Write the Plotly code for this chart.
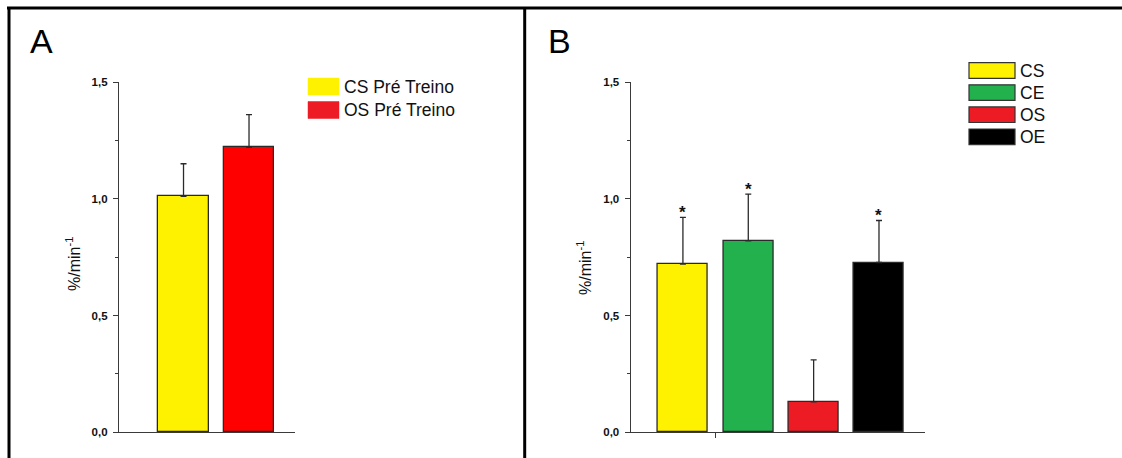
import plotly.graph_objects as go

# ---------------- data ----------------
cat_a = ["CS Pré Treino", "OS Pré Treino"]
mean_a = [1.01, 1.22]
err_a = [0.14, 0.14]
bar_col_a = ["#FFF200", "#FF0000"]
leg_col_a = ["#FFF200", "#ED1C24"]

cat_b = ["CS", "CE", "OS", "OE"]
mean_b = [0.72, 0.82, 0.13, 0.727]
err_b = [0.20, 0.20, 0.18, 0.18]
sig_b = ["*", "*", "", "*"]
col_b = ["#FFF200", "#22B14C", "#ED1C24", "#000000"]

y_tickvals = [0.0, 0.5, 1.0, 1.5]
y_label = "%/min<sup>-1</sup>"
panel_labels = ["A", "B"]

# ---------------- geometry helpers ----------------
W, H = 1122, 458
def px(x):
    return x / W
def py(y):
    return 1 - y / H

FONT = "Arial, 'Liberation Sans', sans-serif"
AX = "#3a3a3a"

fig = go.Figure()

# Panel A bars
fig.add_trace(go.Bar(
    x=list(range(len(cat_a))), y=mean_a, width=0.77,
    marker=dict(color=bar_col_a, line=dict(color="#2a2a2a", width=1.3)),
    error_y=dict(type="data", symmetric=False, array=err_a,
                 arrayminus=[0] * len(err_a), color="#2a2a2a",
                 thickness=1.3, width=3),
    xaxis="x", yaxis="y", showlegend=False, hoverinfo="skip"))

# Panel B bars
fig.add_trace(go.Bar(
    x=list(range(len(cat_b))), y=mean_b, width=0.765,
    marker=dict(color=col_b, line=dict(color="#2a2a2a", width=1.3)),
    error_y=dict(type="data", symmetric=False, array=err_b,
                 arrayminus=[0] * len(err_b), color="#2a2a2a",
                 thickness=1.3, width=3),
    xaxis="x2", yaxis="y2", showlegend=False, hoverinfo="skip"))

ydom = [py(432.3), py(82)]
yax = dict(range=[0, 1.5], domain=ydom, showline=True, linecolor=AX,
           linewidth=1.3, ticks="outside", ticklen=5, tickwidth=1,
           tickcolor=AX, tickvals=y_tickvals, tickformat=".1f",
           tickfont=dict(family=FONT, size=11.5, color="#111", weight="bold"),
           ticklabelstandoff=3, automargin=False,
           minor=dict(ticks="outside", ticklen=3, tickwidth=1,
                      tickcolor=AX, dtick=0.25),
           showgrid=False, zeroline=False, fixedrange=True)

fig.update_layout(
    template=None,
    width=W, height=H, margin=dict(l=0, r=0, t=0, b=0, pad=0, autoexpand=False),
    paper_bgcolor="white", plot_bgcolor="rgba(0,0,0,0)",
    separators=",.", bargap=0,
    xaxis=dict(domain=[px(119), px(295)], range=[-0.985, 1.702],
               anchor="y", showline=True, linecolor=AX, linewidth=1.3,
               showticklabels=False, ticks="", showgrid=False,
               zeroline=False, fixedrange=True, automargin=False),
    yaxis=dict(anchor="x", **yax),
    xaxis2=dict(domain=[px(630.7), px(925)], range=[-0.799, 3.704],
                anchor="y2", showline=True, linecolor=AX, linewidth=1.3,
                tickvals=[0.5], ticks="outside", ticklen=5, tickwidth=1,
                tickcolor=AX, showticklabels=False, showgrid=False,
                zeroline=False, fixedrange=True, automargin=False),
    yaxis2=dict(anchor="x2", **yax),
)

shapes = []
annotations = []

# significance stars above error bars (data coordinates)
for i, s in enumerate(sig_b):
    if s:
        annotations.append(dict(text=s, xref="x2", yref="y2", x=i,
                                y=mean_b[i] + err_b[i], yanchor="middle",
                                yshift=5, showarrow=False,
                                font=dict(family=FONT, size=17, color="#111",
                                          weight="bold")))

# outer frame
shapes.append(dict(type="line", xref="paper", yref="paper",
                   x0=px(7), x1=1, y0=py(8), y1=py(8),
                   line=dict(color="black", width=3)))
shapes.append(dict(type="line", xref="paper", yref="paper",
                   x0=px(9), x1=px(9), y0=py(7), y1=0,
                   line=dict(color="black", width=3)))
shapes.append(dict(type="line", xref="paper", yref="paper",
                   x0=px(524.7), x1=px(524.7), y0=py(7), y1=0,
                   line=dict(color="black", width=3)))

# panel labels
for lbl, xl in zip(panel_labels, [28, 546]):
    annotations.append(dict(text=lbl, xref="paper", yref="paper",
                            x=px(xl), y=py(41), xanchor="left",
                            yanchor="middle", showarrow=False,
                            font=dict(family=FONT, size=34, color="black")))

# y-axis titles
for xc, yc in [(73, 264), (584, 268)]:
    annotations.append(dict(text=y_label, xref="paper", yref="paper",
                            x=px(xc), y=py(yc), textangle=-90,
                            xanchor="center", yanchor="middle",
                            showarrow=False,
                            font=dict(family=FONT, size=16, color="#111")))

# legend A
for i, (name, c) in enumerate(zip(cat_a, leg_col_a)):
    y0 = 78 + i * 23.5
    shapes.append(dict(type="rect", xref="paper", yref="paper",
                       x0=px(308), x1=px(339), y0=py(y0), y1=py(y0 + 17),
                       fillcolor=c, line=dict(color=c, width=0.5)))
    annotations.append(dict(text=name, xref="paper", yref="paper",
                            x=px(342), y=py(y0 + 9), xanchor="left",
                            yanchor="middle", showarrow=False,
                            font=dict(family=FONT, size=17.5, color="#111")))

# legend B
for i, (name, c) in enumerate(zip(cat_b, col_b)):
    y0 = 62.7 + i * 22.1
    shapes.append(dict(type="rect", xref="paper", yref="paper",
                       x0=px(969), x1=px(1015), y0=py(y0), y1=py(y0 + 15.6),
                       fillcolor=c, line=dict(color="#333", width=1.2)))
    annotations.append(dict(text=name, xref="paper", yref="paper",
                            x=px(1018), y=py(y0 + 8), xanchor="left",
                            yanchor="middle", showarrow=False,
                            font=dict(family=FONT, size=17.5, color="#111")))

fig.update_layout(shapes=shapes, annotations=annotations)
fig.write_html("out.html", config={"displayModeBar": False})
